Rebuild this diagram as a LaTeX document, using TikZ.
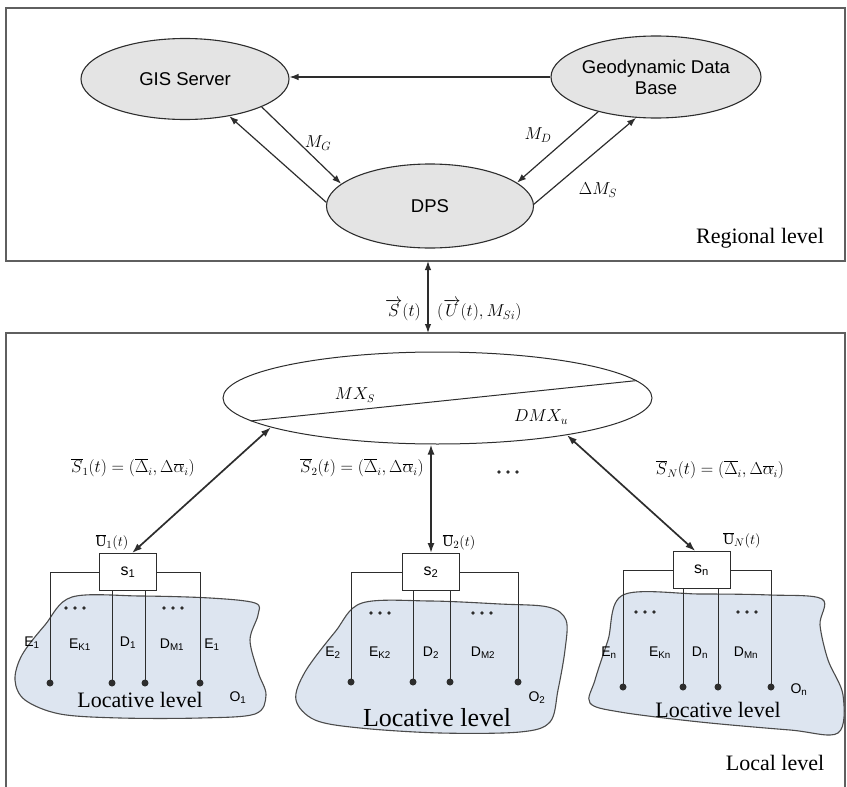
\documentclass[tikz,border=0pt]{standalone}
\usepackage{fontspec}
\setmainfont{Liberation Serif}
\setsansfont{Liberation Sans}
\usetikzlibrary{arrows.meta,shapes.geometric}
\definecolor{ln}{RGB}{45,45,45}
\definecolor{framec}{RGB}{95,95,95}
\definecolor{efill}{RGB}{228,228,228}
\definecolor{bfill}{RGB}{221,229,240}
\definecolor{boutline}{RGB}{75,75,75}
\begin{document}
\begin{tikzpicture}[x=1pt,y=-1pt,
 ell/.style={ellipse,draw=ln,fill=efill,line width=1.1pt,inner sep=0pt,font=\sffamily\fontsize{18.5}{21}\selectfont,align=center},
 arr/.style={draw=ln,line width=1.2pt,-{Latex[length=9pt,width=6.5pt]}},
 darr/.style={draw=ln,line width=1.2pt,{Latex[length=9pt,width=6.5pt]}-{Latex[length=9pt,width=6.5pt]}},
 barr/.style={draw=ln,line width=1.7pt,{Latex[length=10pt,width=7pt]}-{Latex[length=10pt,width=7pt]}},
 sbox/.style={rectangle,draw=ln,fill=white,line width=0.9pt,minimum width=57pt,minimum height=37pt,inner sep=0pt,font=\sffamily\fontsize{16}{18}\selectfont},
 wire/.style={draw=ln,line width=0.9pt},
 blob/.style={draw=boutline,fill=bfill,line width=1.1pt},
 lbl/.style={font=\sffamily\fontsize{14}{16}\selectfont,inner sep=0pt},
 mlbl/.style={font=\fontsize{16}{19}\selectfont,inner sep=0pt},
 tlbl/.style={font=\fontsize{17.5}{20}\selectfont,inner sep=0pt},
 ulbl/.style={font=\fontsize{15}{18}\selectfont,inner sep=0pt},
 lvl/.style={font=\fontsize{22}{26}\selectfont,inner sep=0pt},
 threedots/.pic={\foreach \i in {-9,0,9} \fill[ln] (\i,0) circle (1.9pt);}
]
\useasboundingbox (0,0) rectangle (847,787);
% frames
\draw[framec,line width=1.6pt] (6,8) rectangle (845,261);
\draw[framec,line width=1.6pt] (6,787) -- (6,333) -- (845,333) -- (845,787);

% regional level
\node[ell,minimum width=208pt,minimum height=81pt] (gis) at (185,79) {GIS Server};
\node[ell,minimum width=210pt,minimum height=82pt] (geo) at (656,77) {Geodynamic Data\\Base};
\node[ell,minimum width=207pt,minimum height=84pt] (dps) at (430,206) {DPS};
\draw[arr] (geo.west) -- (gis.east |- geo.west);
\draw[arr] (gis.-20.6) -- (dps.166);
\draw[arr] (dps.178) -- (gis.-40.4);
\draw[arr] (geo.-149.7) -- (dps.15.4);
\draw[arr] (dps.1.7) -- (geo.-116);
\node[tlbl] (mg) at (318,143) {$M_G$};
\node[tlbl] (md) at (538,135) {$M_D$};
\node[tlbl] (dms) at (598,190) {$\Delta M_S$};
\node[lvl] (reg) at (760,238) {Regional level};

% between levels
\coordinate (tb) at (428,261);
\coordinate (bb) at (428,333);
\draw[darr] (bb) -- (tb);
\node[tlbl,anchor=east] (sv) at (421,310) {$\overrightarrow{S}(t)$};
\node[tlbl,anchor=west] (uv) at (437,310) {$(\overrightarrow{U}(t),M_{Si})$};

% local level
\node[ellipse,draw=ln,line width=1pt,minimum width=429pt,minimum height=92pt,inner sep=0pt] (mx) at (437.5,398) {};
\draw[ln,line width=1pt] (mx.187.8) -- (mx.5.5);
\node[mlbl] (mxs) at (355,395) {$MX_S$};
\node[tlbl] (dmx) at (541,417) {$DMX_u$};

% blobs
\path[blob] plot[smooth cycle, tension=0.55] coordinates {(72,597) (140,596) (210,598) (255,603) (258,615) (250,640) (258,672) (266,695) (255,714) (200,718) (120,718) (60,714) (25,700) (15,680) (22,655) (45,625)};
\path[blob] plot[smooth cycle, tension=0.55] coordinates {(362,603) (430,601) (500,604) (548,607) (566,620) (565,650) (558,690) (550,722) (520,732) (440,733) (360,728) (315,720) (296,700) (305,672) (335,632)};
\path[blob] plot[smooth cycle, tension=0.55] coordinates {(623,595) (700,594) (770,595) (822,599) (820,625) (828,660) (843,695) (838,733) (790,730) (700,722) (620,712) (590,703) (595,680) (608,640)};

% group 1
\node[sbox] (s1) at (128,572) {s\textsubscript{1}};
\coordinate (p11) at (50,683); \coordinate (p12) at (112,683);
\coordinate (p13) at (145,683); \coordinate (p14) at (200,683);
\draw[wire] (s1.west) -| (p11);
\draw[wire] (s1.east) -| (p14);
\draw[wire] (s1.south -| p12) -- (p12);
\draw[wire] (s1.south -| p13) -- (p13);
\foreach \p in {p11,p12,p13,p14} \fill[ln] (\p) circle (3.5pt);
\pic at (75,608) {threedots};
\pic at (173,608) {threedots};
\node[lbl] (e11) at (32,643) {E\textsubscript{1}};
\node[lbl] (ek1) at (80,645) {E\textsubscript{K1}};
\node[lbl] (d11) at (128,643) {D\textsubscript{1}};
\node[lbl] (dm1) at (172,645) {D\textsubscript{M1}};
\node[lbl] (e12) at (212,645) {E\textsubscript{1}};
\node[lbl] (o1) at (238,698) {O\textsubscript{1}};
\node[lvl] (loc1) at (140,700) {Locative level};
\node[ulbl] (u1) at (112,542) {$\overline{\mathrm{U}}_1(t)$};

% group 2
\node[sbox] (s2) at (431,572) {s\textsubscript{2}};
\coordinate (p21) at (351,682); \coordinate (p22) at (413,682);
\coordinate (p23) at (450,682); \coordinate (p24) at (518,682);
\draw[wire] (s2.west) -| (p21);
\draw[wire] (s2.east) -| (p24);
\draw[wire] (s2.south -| p22) -- (p22);
\draw[wire] (s2.south -| p23) -- (p23);
\foreach \p in {p21,p22,p23,p24} \fill[ln] (\p) circle (3.5pt);
\pic at (380,613) {threedots};
\pic at (482,613) {threedots};
\node[lbl] (e2) at (333,653) {E\textsubscript{2}};
\node[lbl] (ek2) at (380,653) {E\textsubscript{K2}};
\node[lbl] (d2) at (431,653) {D\textsubscript{2}};
\node[lbl] (dm2) at (483,653) {D\textsubscript{M2}};
\node[lbl] (o2) at (537,698) {O\textsubscript{2}};
\node[lvl,font=\fontsize{26}{30}\selectfont] (loc2) at (437,718) {Locative level};
\node[ulbl] (u2) at (459,542) {$\overline{\mathrm{U}}_2(t)$};

% group n
\node[sbox] (sn) at (701.5,570) {s\textsubscript{n}};
\coordinate (pn1) at (623,687); \coordinate (pn2) at (683,687);
\coordinate (pn3) at (718,687); \coordinate (pn4) at (771,687);
\draw[wire] (sn.west) -| (pn1);
\draw[wire] (sn.east) -| (pn4);
\draw[wire] (sn.south -| pn2) -- (pn2);
\draw[wire] (sn.south -| pn3) -- (pn3);
\foreach \p in {pn1,pn2,pn3,pn4} \fill[ln] (\p) circle (3.5pt);
\pic at (645,612) {threedots};
\pic at (747,612) {threedots};
\node[lbl] (en) at (609,653) {E\textsubscript{n}};
\node[lbl] (ekn) at (660,653) {E\textsubscript{Kn}};
\node[lbl] (dn) at (700,653) {D\textsubscript{n}};
\node[lbl] (dmn) at (746,653) {D\textsubscript{Mn}};
\node[lbl] (on) at (799,690) {O\textsubscript{n}};
\node[lvl] (locn) at (718,710) {Locative level};
\node[ulbl] (un) at (742,540) {$\overline{\mathrm{U}}_N(t)$};

% links to MX
\draw[barr] (mx.190.4) -- (s1.78);
\draw[barr] (s2.north |- mx.south) -- (s2.north);
\draw[barr] (mx.-16.2) -- (sn.108.9);
\node[mlbl] (sl1) at (133,468) {$\overline{S}_1(t)=(\overline{\Delta}_i,\Delta\overline{\alpha}_i)$};
\node[mlbl] (sl2) at (362,468) {$\overline{S}_2(t)=(\overline{\Delta}_i,\Delta\overline{\alpha}_i)$};
\pic at (508,472) {threedots};
\node[mlbl] (sln) at (720,470) {$\overline{S}_N(t)=(\overline{\Delta}_i,\Delta\overline{\alpha}_i)$};
\node[lvl] (loc) at (775,763) {Local level};
\end{tikzpicture}
\end{document}
